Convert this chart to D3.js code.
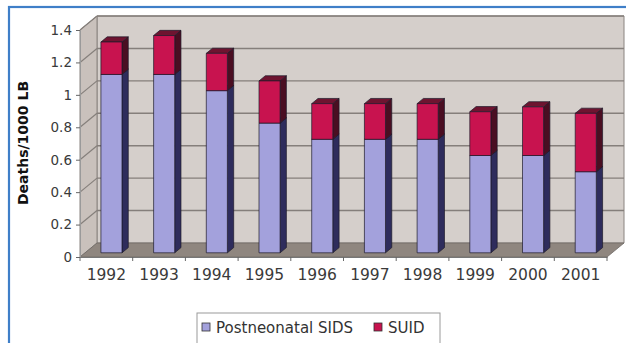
<!DOCTYPE html>
<html><head><meta charset="utf-8">
<script src="https://cdn.jsdelivr.net/npm/d3@7/dist/d3.min.js"></script>
<style>body{margin:0;background:#fff}svg{display:block}</style>
</head><body>
<svg id="c" width="626" height="343"></svg>
<script>
const years = ["1992","1993","1994","1995","1996","1997","1998","1999","2000","2001"];
const sids = [1.1, 1.1, 1.0, 0.8, 0.7, 0.7, 0.7, 0.6, 0.6, 0.5];
const suid = [0.2, 0.24, 0.23, 0.26, 0.22, 0.22, 0.22, 0.27, 0.3, 0.36];
const yTicks = [0, 0.2, 0.4, 0.6, 0.8, 1, 1.2, 1.4];
const seriesNames = ["Postneonatal SIDS", "SUID"];

const svg = d3.select("#c");
const DX = 17, DY = -14;     // full depth offset
const F1 = 0.3, F2 = 0.67;   // bar depth range
const x = d3.scaleBand().domain(years).range([80, 607]);
const y = d3.scaleLinear().domain([0, 1.4]).range([257, 30]);
const font = "DejaVu Sans, Verdana, sans-serif";

// outer border
svg.append("rect").attr("x", 9).attr("y", 7).attr("width", 640).attr("height", 360)
  .attr("fill", "#fff").attr("stroke", "#3f7fc8").attr("stroke-width", 2.2);

const y0 = y(0), yT = y(1.4), xL = 80, xR = x.range()[1];
const pt = (px, py, f) => [px + f * DX, py + f * DY];
const poly = pts => pts.map(p => p.join(",")).join(" ");

// back wall
svg.append("polygon").attr("points", poly([pt(xL, yT, 1), pt(xR, yT, 1), pt(xR, y0, 1), pt(xL, y0, 1)]))
  .attr("fill", "#d5cfcb").attr("stroke", "#8a8480").attr("stroke-width", 1);
// left wall
svg.append("polygon").attr("points", poly([[xL, y0], [xL, yT], pt(xL, yT, 1), pt(xL, y0, 1)]))
  .attr("fill", "#c9c1bc").attr("stroke", "#8a8480").attr("stroke-width", 1);
// floor
svg.append("polygon").attr("points", poly([[xL, y0], [xR, y0], pt(xR, y0, 1), pt(xL, y0, 1)]))
  .attr("fill", "#8f867f").attr("stroke", "#6f6a66").attr("stroke-width", 0.8);

// gridlines
yTicks.filter(t => t > 0).forEach(t => {
  const a = pt(xL, y(t), 1), b = pt(xR, y(t), 1);
  svg.append("line").attr("x1", a[0]).attr("y1", a[1]).attr("x2", b[0]).attr("y2", b[1])
    .attr("stroke", "#857f7b").attr("stroke-width", 1.4);
  svg.append("line").attr("x1", xL).attr("y1", y(t)).attr("x2", a[0]).attr("y2", a[1])
    .attr("stroke", "#857f7b").attr("stroke-width", 1.2);
});

// y axis
const ya = svg.append("g").attr("transform", `translate(${xL},0)`)
  .call(d3.axisLeft(y).tickValues(yTicks).tickSize(4).tickPadding(4).tickFormat(d3.format("")));
ya.select(".domain").attr("stroke", "#9a9a9a");
ya.selectAll(".tick line").attr("stroke", "#666");
ya.selectAll("text").attr("font-family", font).attr("font-size", 13.5).attr("fill", "#3a3a3a");

// x axis
const xa = svg.append("g").attr("transform", `translate(0,${y0})`)
  .call(d3.axisBottom(x).tickSize(0).tickPadding(12));
xa.select(".domain").attr("stroke", "#777");
xa.selectAll("text").attr("font-family", font).attr("font-size", 15.5).attr("fill", "#3a3a3a");
// boundary ticks
const bounds = years.map(d => x(d)).concat([xR]);
svg.append("g").selectAll("line").data(bounds).join("line")
  .attr("x1", d => d).attr("x2", d => d).attr("y1", y0).attr("y2", y0 + 4)
  .attr("stroke", "#666");

// y title
svg.append("text").attr("transform", "translate(28,143) rotate(-90)")
  .attr("text-anchor", "middle").attr("font-family", font).attr("font-weight", "bold")
  .attr("font-size", 14).attr("fill", "#111").text("Deaths/1000 LB");

// bars
const colors = [
  {front: "#a3a1dc", side: "#2e2c5c", top: "#8482c0"},
  {front: "#c8134f", side: "#4a0e22", top: "#6e1430"}
];
const bw = x.bandwidth() * 0.4;
years.forEach((yr, i) => {
  const cx = x(yr) + x.bandwidth() / 2;
  const segs = [[0, sids[i]], [sids[i], sids[i] + suid[i]]];
  segs.forEach((s, k) => {
    const c = colors[k];
    const l = cx - bw / 2, r = cx + bw / 2;
    const yb = y(s[0]), yt = y(s[1]);
    const g = svg.append("g").attr("stroke", "#1c1a2a").attr("stroke-width", 0.7).attr("stroke-linejoin", "round");
    // side
    g.append("polygon").attr("points", poly([pt(r, yb, F1), pt(r, yt, F1), pt(r, yt, F2), pt(r, yb, F2)]))
      .attr("fill", c.side);
    // top
    g.append("polygon").attr("points", poly([pt(l, yt, F1), pt(r, yt, F1), pt(r, yt, F2), pt(l, yt, F2)]))
      .attr("fill", c.top);
    // front
    const f0 = pt(l, yt, F1), f1 = pt(r, yb, F1);
    g.append("rect").attr("x", f0[0]).attr("y", f0[1]).attr("width", f1[0] - f0[0]).attr("height", f1[1] - f0[1])
      .attr("fill", c.front);
  });
});

// legend
const lg = svg.append("g");
lg.append("rect").attr("x", 197).attr("y", 313).attr("width", 243).attr("height", 40)
  .attr("fill", "#fff").attr("stroke", "#9a9a9a").attr("stroke-width", 1);
const legX = [202, 374];
seriesNames.forEach((n, k) => {
  lg.append("rect").attr("x", legX[k]).attr("y", 323).attr("width", 8).attr("height", 8)
    .attr("fill", colors[k].front).attr("stroke", "#333").attr("stroke-width", 0.8);
  lg.append("text").attr("x", legX[k] + 14).attr("y", 333).attr("font-family", font)
    .attr("font-size", 15).attr("fill", "#333").text(n);
});
</script>
</body></html>
